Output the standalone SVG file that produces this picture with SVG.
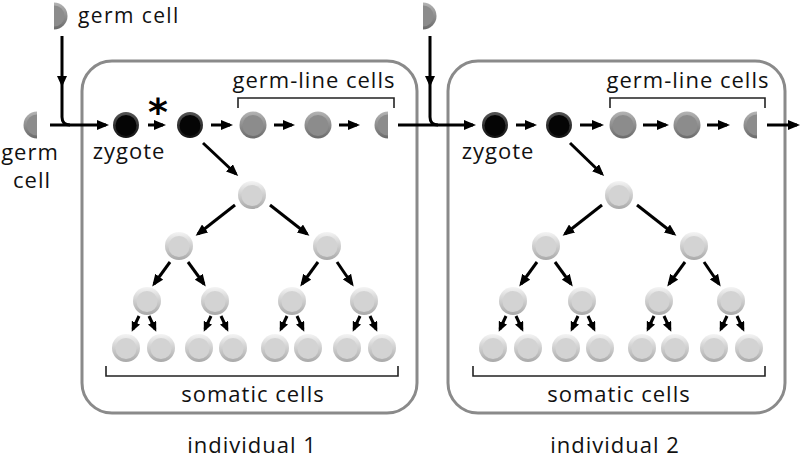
<svg xmlns="http://www.w3.org/2000/svg" width="800" height="461" viewBox="0 0 800 461">
<style>
text{font-family:"Open Sans","DejaVu Sans",sans-serif;font-size:22px;letter-spacing:1px;fill:#111}
.c{text-anchor:middle}
.box{fill:none;stroke:#8a8a8a;stroke-width:3}
.ar{fill:none;stroke:#000;stroke-width:3;marker-end:url(#ah)}
.sa{fill:none;stroke:#000;stroke-width:3;marker-end:url(#ahs)}
.ln{fill:none;stroke:#000;stroke-width:3}
.br{fill:none;stroke:#222;stroke-width:1.6}
</style>
<defs>
<marker id="ah" markerUnits="userSpaceOnUse" markerWidth="12" markerHeight="10" viewBox="0 0 12 10" refX="9" refY="5" orient="auto"><path d="M0,0 L12,5 L0,10 z" fill="#000"/></marker>
<marker id="ahs" markerUnits="userSpaceOnUse" markerWidth="10" markerHeight="9" viewBox="0 0 10 9" refX="7" refY="4.5" orient="auto"><path d="M0,0 L10,4.5 L0,9 z" fill="#000"/></marker>
<linearGradient id="rimL" x1="0" y1="0" x2="0" y2="1"><stop offset="0" stop-color="#f4f4f4"/><stop offset="1" stop-color="#a9a9a9"/></linearGradient>
<linearGradient id="rimM" x1="0" y1="0" x2="0" y2="1"><stop offset="0" stop-color="#b4b4b4"/><stop offset="1" stop-color="#6a6a6a"/></linearGradient>
<linearGradient id="rimB" x1="0" y1="0" x2="0" y2="1"><stop offset="0" stop-color="#555"/><stop offset="1" stop-color="#111"/></linearGradient>
<g id="light"><circle r="14" fill="url(#rimL)"/><circle r="10.5" cy="0.5" fill="#d3d3d3"/></g>
<g id="mid"><circle r="13.5" fill="url(#rimM)"/><circle r="10.5" cy="0.5" fill="#8c8c8c"/></g>
<g id="black"><circle r="13" fill="url(#rimB)"/><circle r="10.5" cy="0.5" fill="#050505"/></g>
<g id="halfL"><path d="M0,-13.5 A13.5,13.5 0 0 0 0,13.5 z" fill="url(#rimM)"/><path d="M0,-10.5 A10.5,10.5 0 0 0 0,10.5 z" fill="#8c8c8c"/></g>
<g id="halfR"><path d="M0,-13.5 A13.5,13.5 0 0 1 0,13.5 z" fill="url(#rimM)"/><path d="M0,-10.5 A10.5,10.5 0 0 1 0,10.5 z" fill="#8c8c8c"/></g>
</defs>
<rect width="800" height="461" fill="#fff"/>

<g id="individual1">
<rect class="box" x="82" y="61" width="335" height="352" rx="30"/>
<text class="c" x="252" y="453">individual 1</text>
</g>
<g id="individual2">
<rect class="box" x="448" y="61" width="337" height="352" rx="30"/>
<text class="c" x="615" y="453">individual 2</text>
</g>

<g id="connectors">
<path class="ln" d="M62,36 V117 Q62,125 70,125"/>
<polygon points="57,76 67,76 62,87" fill="#000"/>
<path class="ar" d="M50,125 H106"/>
<path class="ar" d="M148,125 H163"/>
<path class="ar" d="M211,125 H230"/>
<path class="ar" d="M274,125 H292"/>
<path class="ar" d="M339,125 H357"/>
<path class="ar" d="M203,143 L236,174"/>
<path class="ar" d="M235,205 L198,234"/>
<path class="ar" d="M270,205 L307,234"/>
<path class="ar" d="M170,262 L154,284"/>
<path class="ar" d="M188,262 L204,284"/>
<path class="ar" d="M318,262 L302,284"/>
<path class="ar" d="M337,262 L352,284"/>
<path class="sa" d="M139,316 L133,329"/><path class="sa" d="M149,316 L155,329"/>
<path class="sa" d="M211,316 L205,329"/><path class="sa" d="M221,316 L227,329"/>
<path class="sa" d="M287,316 L281,329"/><path class="sa" d="M297,316 L303,329"/>
<path class="sa" d="M360,316 L354,329"/><path class="sa" d="M370,316 L376,329"/>
<path class="ln" d="M430,36 V117 Q430,125 438,125"/>
<polygon points="425,76 435,76 430,87" fill="#000"/>
<path class="ar" d="M398,125 H473"/>
<path class="ar" d="M516,125 H534"/>
<path class="ar" d="M580,125 H601"/>
<path class="ar" d="M643,125 H666"/>
<path class="ar" d="M707,125 H727"/>
<path class="ar" d="M767,125 H797"/>
<path class="ar" d="M570,143 L602,174"/>
<path class="ar" d="M602,205 L565,234"/>
<path class="ar" d="M637,205 L674,234"/>
<path class="ar" d="M537,262 L521,284"/>
<path class="ar" d="M555,262 L571,284"/>
<path class="ar" d="M685,262 L669,284"/>
<path class="ar" d="M704,262 L719,284"/>
<path class="sa" d="M506,316 L500,329"/><path class="sa" d="M516,316 L522,329"/>
<path class="sa" d="M578,316 L572,329"/><path class="sa" d="M588,316 L594,329"/>
<path class="sa" d="M654,316 L648,329"/><path class="sa" d="M664,316 L670,329"/>
<path class="sa" d="M727,316 L721,329"/><path class="sa" d="M737,316 L743,329"/>
</g>

<g id="brackets">
<path class="br" d="M238,108 V98 H394 V108"/>
<path class="br" d="M610,108 V98 H765 V108"/>
<path class="br" d="M106,366 V376 H398 V366"/>
<path class="br" d="M473,366 V376 H765 V366"/>
</g>

<g id="germcell-top1"><use href="#halfR" x="54" y="16"/><text x="78" y="23" style="font-size:21px;letter-spacing:1.4px">germ cell</text></g>
<g id="germcell-left"><use href="#halfL" x="37" y="125"/><text class="c" x="30" y="160">germ</text><text class="c" x="32" y="188">cell</text></g>
<g id="germcell-top2"><use href="#halfR" x="423" y="16"/></g>

<g id="zygote1"><use href="#black" x="126" y="125"/><text class="c" x="129" y="159">zygote</text></g>
<g id="cell1-2"><use href="#black" x="190" y="125"/></g>
<text id="asterisk" x="158" y="125" style="font-family:'DejaVu Sans',sans-serif;font-size:38px;font-weight:bold;fill:#000;letter-spacing:0" class="c">*</text>
<g id="germline1"><text class="c" x="314" y="88">germ-line cells</text><use href="#mid" x="253" y="125"/><use href="#mid" x="318" y="125"/><use href="#halfL" x="388" y="125"/></g>
<g id="somatic1">
<use href="#light" x="252" y="195"/>
<use href="#light" x="179" y="246"/><use href="#light" x="327" y="246"/>
<use href="#light" x="147" y="301"/><use href="#light" x="215" y="301"/><use href="#light" x="292" y="301"/><use href="#light" x="364" y="301"/>
<use href="#light" x="126" y="348"/><use href="#light" x="161" y="348"/><use href="#light" x="199" y="348"/><use href="#light" x="233" y="348"/>
<use href="#light" x="275" y="348"/><use href="#light" x="308" y="348"/><use href="#light" x="347" y="348"/><use href="#light" x="382" y="348"/>
<text class="c" x="253" y="402">somatic cells</text>
</g>

<g id="zygote2"><use href="#black" x="495" y="125"/><text class="c" x="498" y="159">zygote</text></g>
<g id="cell2-2"><use href="#black" x="559" y="125"/></g>
<g id="germline2"><text class="c" x="688" y="88">germ-line cells</text><use href="#mid" x="623" y="125"/><use href="#mid" x="687" y="125"/><use href="#halfL" x="757" y="125"/></g>
<g id="somatic2">
<use href="#light" x="619" y="195"/>
<use href="#light" x="546" y="246"/><use href="#light" x="694" y="246"/>
<use href="#light" x="513" y="301"/><use href="#light" x="582" y="301"/><use href="#light" x="659" y="301"/><use href="#light" x="731" y="301"/>
<use href="#light" x="493" y="348"/><use href="#light" x="528" y="348"/><use href="#light" x="566" y="348"/><use href="#light" x="600" y="348"/>
<use href="#light" x="642" y="348"/><use href="#light" x="675" y="348"/><use href="#light" x="714" y="348"/><use href="#light" x="749" y="348"/>
<text class="c" x="619" y="402">somatic cells</text>
</g>
</svg>
